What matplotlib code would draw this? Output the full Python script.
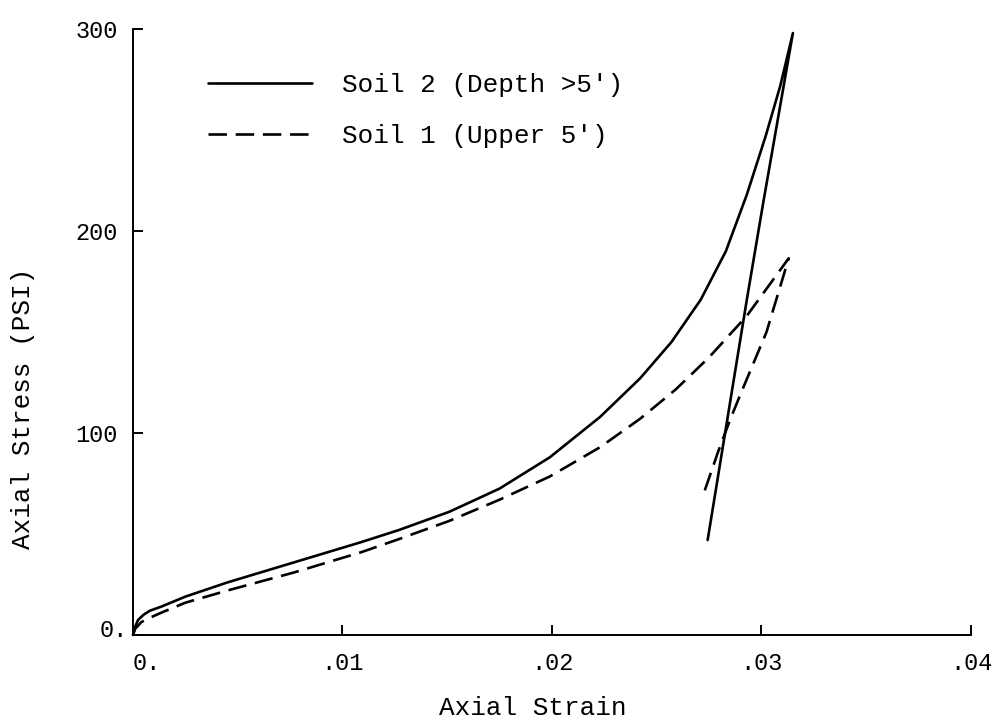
import matplotlib
matplotlib.use("Agg")
import matplotlib.pyplot as plt
from matplotlib.transforms import ScaledTranslation

plt.rcParams['font.family'] = ['Liberation Mono', 'DejaVu Sans Mono']

# Soil 2 (depth > 5 ft): loading branch followed by the unloading line
soil2_strain = [0.0, 0.0001, 0.00024, 0.0005, 0.0008, 0.00134, 0.0025, 0.0045,
                0.0077, 0.0109, 0.0127, 0.0151, 0.0175, 0.0199, 0.0223, 0.0242,
                0.0257, 0.0271, 0.0283, 0.0293, 0.0302, 0.0309, 0.0315,
                0.0301, 0.0293, 0.02743]
soil2_stress = [0.0, 4.0, 7.4, 10.0, 12.0, 14.0, 19.0, 26.0,
                36.0, 46.0, 52.0, 61.0, 72.5, 88.0, 108.0, 127.0,
                145.0, 166.0, 190.0, 218.0, 247.0, 272.0, 298.0,
                215.0, 166.0, 47.0]

# Soil 1 (upper 5 ft): loading branch followed by the unloading line
soil1_strain = [0.0, 0.0001, 0.0004, 0.0008, 0.00134, 0.0025, 0.0045, 0.0077,
                0.0109, 0.0127, 0.0151, 0.0175, 0.0199, 0.0223, 0.0242, 0.0259,
                0.0275, 0.0293, 0.0313,
                0.03024, 0.02897, 0.0285, 0.02794, 0.02719]
soil1_stress = [0.0, 3.0, 6.4, 8.5, 11.0, 16.0, 22.0, 31.0,
                41.0, 47.5, 56.5, 67.0, 78.5, 93.0, 107.0, 121.5,
                137.5, 158.0, 186.5,
                150.0, 118.5, 106.5, 91.0, 68.5]

series_labels = ["Soil 2 (Depth >5')", "Soil 1 (Upper 5')"]

xticks = [0.0, 0.01, 0.02, 0.03, 0.04]
xtick_labels = ["0.", ".01", ".02", ".03", ".04"]
yticks = [0, 100, 200, 300]
ytick_labels = ["0.", "100", "200", "300"]

fig = plt.figure(figsize=(9.97, 7.22), dpi=100)
ax = fig.add_axes([0.1334, 0.1205, 0.8405, 0.8393])

ax.plot(soil2_strain, soil2_stress, color='black', lw=1.9,
        solid_capstyle='round', solid_joinstyle='round', clip_on=False,
        label=series_labels[0])
ax.plot(soil1_strain, soil1_stress, color='black', lw=1.9,
        linestyle=(0, (7, 3.3)), clip_on=False, label=series_labels[1])

ax.set_xlim(0, 0.04)
ax.set_ylim(0, 300)

for side in ('top', 'right'):
    ax.spines[side].set_visible(False)
for side in ('left', 'bottom'):
    ax.spines[side].set_linewidth(1.4)

ax.set_xticks(xticks, xtick_labels)
ax.set_yticks(yticks, ytick_labels)
ax.tick_params(direction='in', length=7, width=1.4, labelsize=17,
               colors='black')
ax.tick_params(axis='x', pad=12)
ax.tick_params(axis='y', pad=11)

# nudge the two "0." labels next to the origin
xl0 = ax.get_xticklabels()[0]
xl0.set_transform(xl0.get_transform() + ScaledTranslation(10 / 72, 0, fig.dpi_scale_trans))
yl0 = ax.get_yticklabels()[0]
yl0.set_transform(yl0.get_transform() + ScaledTranslation(7 / 72, 5 / 72, fig.dpi_scale_trans))

ax.set_xlabel("Axial Strain", fontsize=18.7)
ax.set_ylabel("Axial Stress (PSI)", fontsize=18.7)
ax.xaxis.set_label_coords(0.477, -0.1007)
ax.yaxis.set_label_coords(-0.117, 0.3746)

ax.legend(loc='upper left', bbox_to_anchor=(0.0895, 0.927), frameon=False,
          fontsize=18.7, handlelength=4.0, handletextpad=1.15,
          labelspacing=1.03, borderpad=0, borderaxespad=0)

fig.savefig("out.png", dpi=100, facecolor='white')
